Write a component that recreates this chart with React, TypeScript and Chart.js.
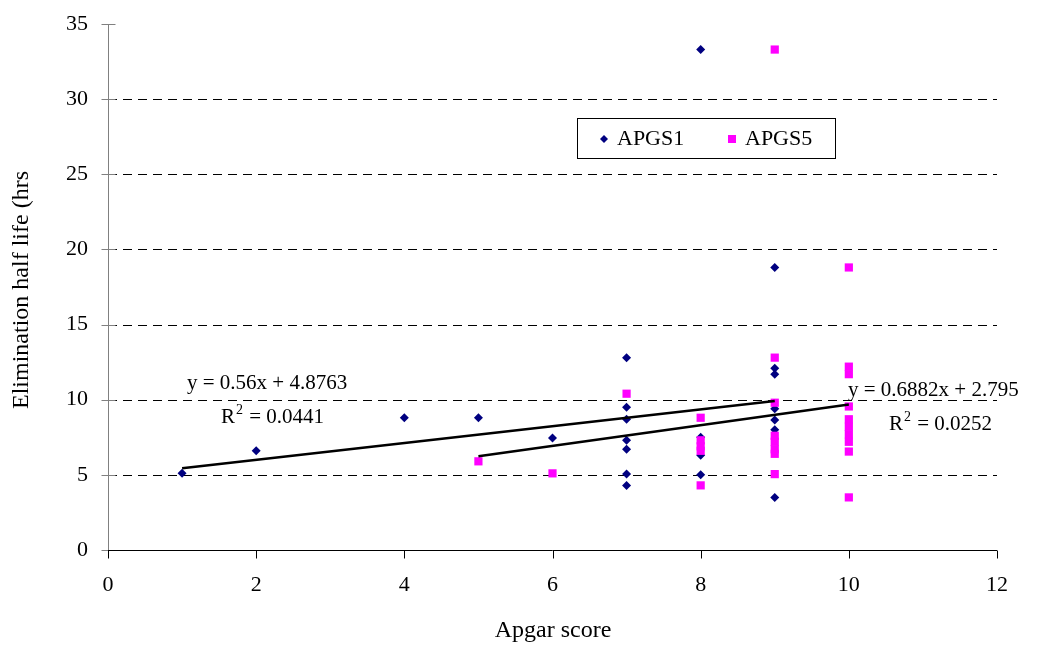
import React, { useEffect, useRef } from "react";
import { Chart, registerables } from "chart.js";

Chart.register(...registerables);

// ---- data ----
const apgs1X = [1, 2, 4, 5, 6, 7, 7, 7, 7, 7, 7, 7, 8, 8, 8, 8, 9, 9, 9, 9, 9, 9, 9];
const apgs1Y = [5.1, 6.6, 8.8, 8.8, 7.45, 12.8, 9.5, 8.7, 7.3, 6.7, 5.05, 4.3, 33.3, 7.5, 6.3, 5.0, 18.8, 12.1, 11.7, 9.4, 8.65, 8.0, 3.5];

const apgs5X = [5, 6, 7, 8, 8, 8, 8, 8, 9, 9, 9, 9, 9, 9, 9, 9, 10, 10, 10, 10, 10, 10, 10, 10, 10, 10];
const apgs5Y = [5.9, 5.1, 10.4, 8.8, 7.3, 6.9, 6.6, 4.3, 33.3, 12.8, 9.8, 7.6, 7.2, 6.7, 6.4, 5.05, 18.8, 12.2, 11.7, 9.55, 8.7, 8.2, 7.7, 7.2, 6.55, 3.5];

const seriesNames = ["APGS1", "APGS5"];
const trendSlope = [0.56, 0.6882];
const trendIntercept = [4.8763, 2.795];
const trendFrom = [1, 5];
const trendTo = [9, 10];
const trendEquations = ["y = 0.56x + 4.8763", "y = 0.6882x + 2.795"];
const trendR2 = ["0.0441", "0.0252"];

const xTitle = "Apgar score";
const yTitle = "Elimination half life (hrs";

const NAVY = "#000080";
const PINK = "#FF00FF";
const FONT = "'Liberation Serif', serif";

const toPoints = (xs: number[], ys: number[]) => xs.map((x, i) => ({ x, y: ys[i] }));
const trendPoints = (i: number) => [
  { x: trendFrom[i], y: trendSlope[i] * trendFrom[i] + trendIntercept[i] },
  { x: trendTo[i], y: trendSlope[i] * trendTo[i] + trendIntercept[i] },
];

const decorPlugin = {
  id: "decor",
  beforeDatasetsDraw(chart: any) {
    const { ctx, chartArea, scales } = chart;
    const xs = scales.x;
    const ys = scales.y;
    ctx.save();
    // dashed gridlines
    ctx.strokeStyle = "#000";
    ctx.lineWidth = 1;
    ctx.setLineDash([9, 6]);
    for (let v = 5; v <= 30; v += 5) {
      const py = Math.round(ys.getPixelForValue(v)) + 0.5;
      ctx.beginPath();
      ctx.moveTo(chartArea.left, py);
      ctx.lineTo(chartArea.right, py);
      ctx.stroke();
    }
    ctx.setLineDash([]);
    // y axis
    const ax = Math.round(chartArea.left) + 0.5;
    ctx.strokeStyle = "#808080";
    ctx.beginPath();
    ctx.moveTo(ax, chartArea.top);
    ctx.lineTo(ax, chartArea.bottom);
    ctx.stroke();
    for (let v = 0; v <= 35; v += 5) {
      const py = Math.round(ys.getPixelForValue(v)) + 0.5;
      ctx.beginPath();
      ctx.moveTo(ax - 7, py);
      ctx.lineTo(ax + 7, py);
      ctx.stroke();
    }
    // x axis
    const ay = Math.round(chartArea.bottom) + 0.5;
    ctx.strokeStyle = "#000";
    ctx.beginPath();
    ctx.moveTo(chartArea.left, ay);
    ctx.lineTo(chartArea.right, ay);
    ctx.stroke();
    for (let v = 0; v <= 12; v += 2) {
      const px = Math.round(xs.getPixelForValue(v)) + 0.5;
      ctx.beginPath();
      ctx.moveTo(px, ay);
      ctx.lineTo(px, ay + 8);
      ctx.stroke();
    }
    ctx.restore();
  },
  afterDraw(chart: any) {
    const { ctx } = chart;
    ctx.save();
    ctx.fillStyle = "#000";
    // axis titles
    ctx.font = `24px ${FONT}`;
    ctx.textAlign = "center";
    ctx.textBaseline = "middle";
    ctx.fillText(xTitle, 553, 631);
    ctx.save();
    ctx.translate(22, 290);
    ctx.rotate(-Math.PI / 2);
    ctx.fillText(yTitle, 0, 0);
    ctx.restore();

    // legend
    const lx = 577, ly = 118, lw = 258, lh = 40;
    ctx.fillStyle = "#fff";
    ctx.fillRect(lx, ly, lw, lh);
    ctx.strokeStyle = "#000";
    ctx.lineWidth = 1;
    ctx.strokeRect(lx + 0.5, ly + 0.5, lw, lh);
    const cy = ly + lh / 2 + 1;
    // diamond
    ctx.fillStyle = NAVY;
    ctx.beginPath();
    ctx.moveTo(604, cy - 4);
    ctx.lineTo(608, cy);
    ctx.lineTo(604, cy + 4);
    ctx.lineTo(600, cy);
    ctx.closePath();
    ctx.fill();
    ctx.fillStyle = PINK;
    ctx.fillRect(728, cy - 4, 8, 8);
    ctx.fillStyle = "#000";
    ctx.font = `22px ${FONT}`;
    ctx.textAlign = "left";
    ctx.fillText(seriesNames[0], 617, cy);
    ctx.fillText(seriesNames[1], 745, cy);

    // equations
    const drawR2 = (x: number, y: number, val: string) => {
      ctx.font = `21px ${FONT}`;
      ctx.fillText("R", x, y);
      const w = ctx.measureText("R").width;
      ctx.font = `14px ${FONT}`;
      ctx.fillText("2", x + w + 1, y - 7);
      const w2 = ctx.measureText("2").width;
      ctx.font = `21px ${FONT}`;
      ctx.fillText(" = " + val, x + w + w2 + 2, y);
    };
    ctx.font = `21px ${FONT}`;
    ctx.textAlign = "left";
    ctx.fillText(trendEquations[0], 187, 383);
    drawR2(221, 417, trendR2[0]);
    ctx.font = `21px ${FONT}`;
    ctx.fillText(trendEquations[1], 848, 390);
    drawR2(889, 424, trendR2[1]);
    ctx.restore();
  },
};

export default function App() {
  const canvasRef = useRef<HTMLCanvasElement | null>(null);

  useEffect(() => {
    if (!canvasRef.current) return;
    const chart = new Chart(canvasRef.current, {
      type: "scatter",
      data: {
        datasets: [
          {
            label: seriesNames[0],
            data: toPoints(apgs1X, apgs1Y),
            backgroundColor: NAVY,
            borderColor: NAVY,
            pointStyle: "rectRot",
            pointRadius: 4.5,
            borderWidth: 0,
            order: 2,
          },
          {
            label: seriesNames[1],
            data: toPoints(apgs5X, apgs5Y),
            backgroundColor: PINK,
            borderColor: PINK,
            pointStyle: "rect",
            pointRadius: 5.8,
            borderWidth: 0,
            order: 1,
          },
          {
            type: "line",
            label: "trend1",
            data: trendPoints(0),
            borderColor: "#000",
            borderWidth: 2.5,
            pointRadius: 0,
            showLine: true,
            fill: false,
            order: 0,
          } as any,
          {
            type: "line",
            label: "trend5",
            data: trendPoints(1),
            borderColor: "#000",
            borderWidth: 2.5,
            pointRadius: 0,
            showLine: true,
            fill: false,
            order: 0,
          } as any,
        ],
      },
      options: {
        responsive: false,
        animation: false,
        layout: { padding: { left: 0, top: 24, right: 59, bottom: 0 } },
        plugins: { legend: { display: false }, tooltip: { enabled: false } },
        scales: {
          x: {
            type: "linear",
            min: 0,
            max: 12,
            grid: { display: false, drawTicks: false },
            border: { display: false },
            ticks: {
              stepSize: 2,
              padding: 22,
              color: "#000",
              font: { family: FONT, size: 22 },
            },
            afterFit: (s: any) => {
              s.height = 101;
              s.paddingLeft = 0;
              s.paddingRight = 0;
            },
          },
          y: {
            type: "linear",
            min: 0,
            max: 35,
            grid: { display: false, drawTicks: false },
            border: { display: false },
            ticks: {
              stepSize: 5,
              padding: 20,
              color: "#000",
              font: { family: FONT, size: 22 },
            },
            afterFit: (s: any) => {
              s.width = 108;
              s.paddingTop = 0;
              s.paddingBottom = 0;
            },
          },
        },
      },
      plugins: [decorPlugin],
    } as any);
    return () => chart.destroy();
  }, []);

  return (
    <div style={{ position: "absolute", left: 0, top: 0, width: 1056, height: 651, background: "#fff" }}>
      <canvas ref={canvasRef} width={1056} height={651} style={{ width: 1056, height: 651 }} />
    </div>
  );
}
